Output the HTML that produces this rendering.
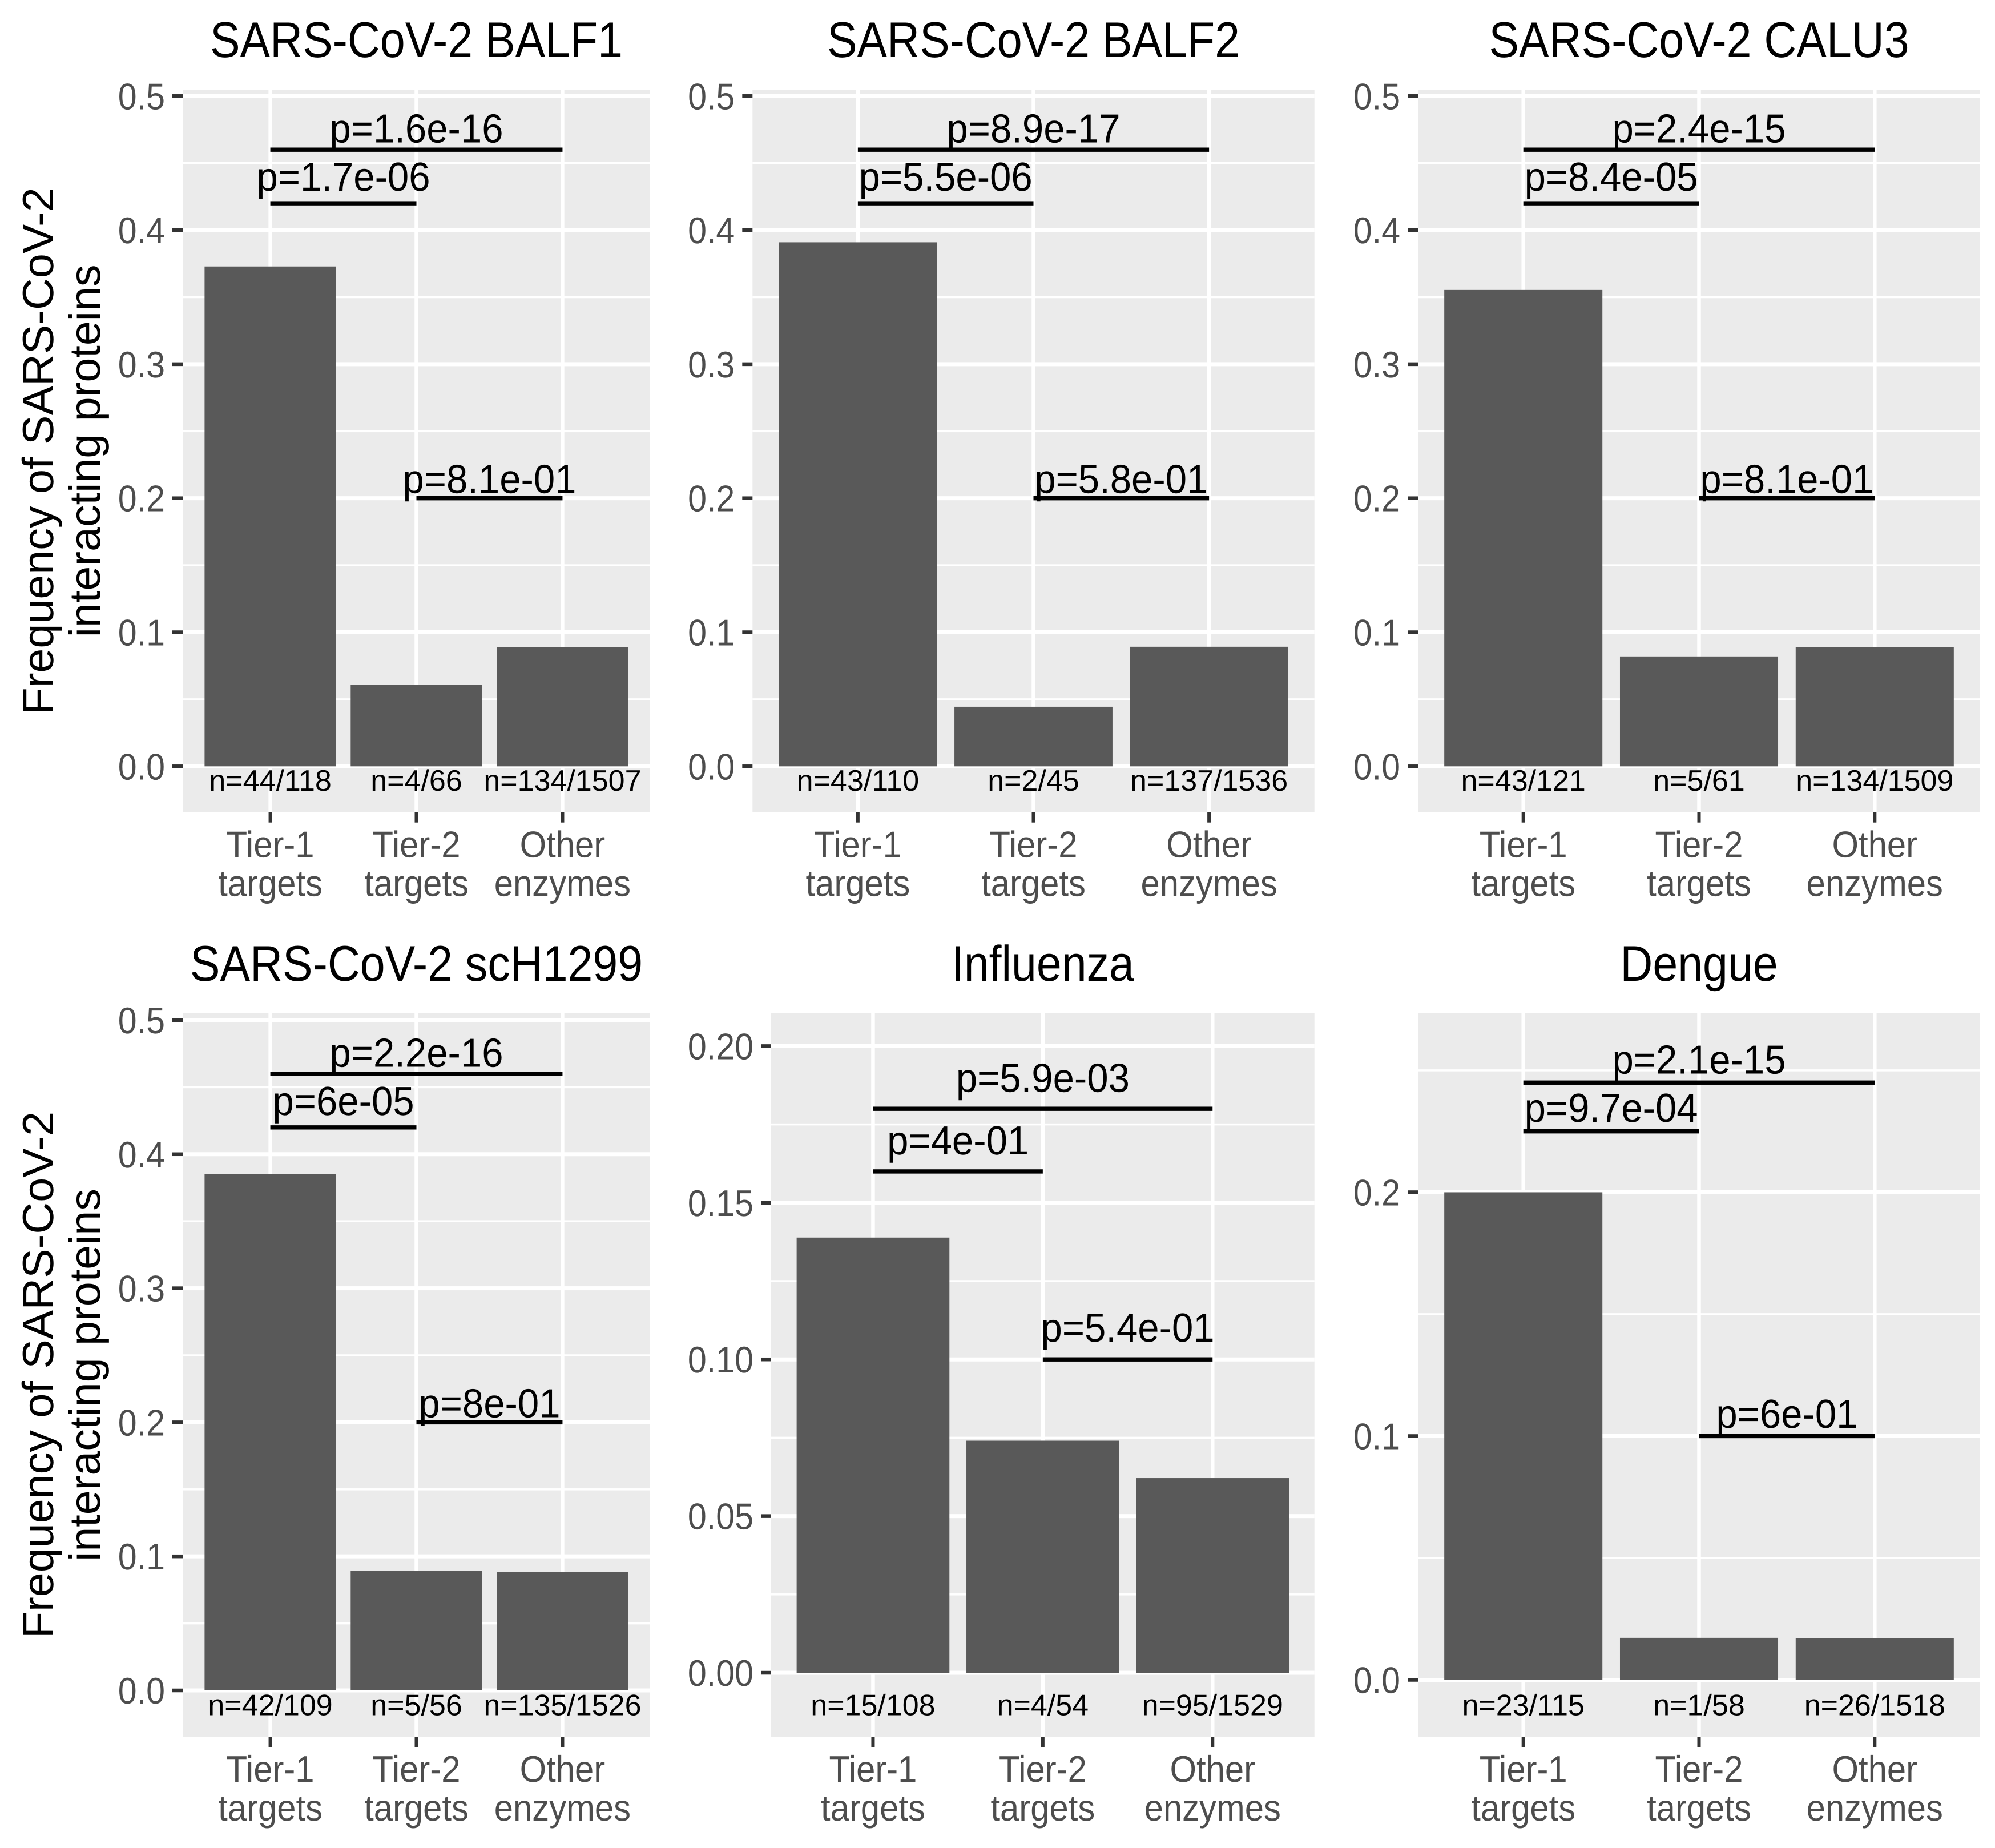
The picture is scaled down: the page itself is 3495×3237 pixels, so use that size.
<!DOCTYPE html>
<html lang="en">
<head>
<meta charset="utf-8">
<title>Frequency of SARS-CoV-2 interacting proteins</title>
<style>
html,body{margin:0;padding:0;background:#fff;}
svg{display:block;}
text{font-family:"Liberation Sans",Arial,sans-serif;text-rendering:geometricPrecision;}
</style>
</head>
<body>
<svg id="figure" xmlns="http://www.w3.org/2000/svg" width="3495" height="3237" viewBox="0 0 3495 3237"></svg>
<script>
// ---- chart data ----
const panelTitles = ["SARS-CoV-2 BALF1","SARS-CoV-2 BALF2","SARS-CoV-2 CALU3","SARS-CoV-2 scH1299","Influenza","Dengue"];
const categoryLine1 = ["Tier-1","Tier-2","Other"];
const categoryLine2 = ["targets","targets","enzymes"];
const hitCounts = [[44,4,134],[43,2,137],[43,5,134],[42,5,135],[15,4,95],[23,1,26]];
const totalCounts = [[118,66,1507],[110,45,1536],[121,61,1509],[109,56,1526],[108,54,1529],[115,58,1518]];
const pLabels = [
  ["p=1.6e-16","p=1.7e-06","p=8.1e-01"],
  ["p=8.9e-17","p=5.5e-06","p=5.8e-01"],
  ["p=2.4e-15","p=8.4e-05","p=8.1e-01"],
  ["p=2.2e-16","p=6e-05","p=8e-01"],
  ["p=5.9e-03","p=4e-01","p=5.4e-01"],
  ["p=2.1e-15","p=9.7e-04","p=6e-01"]
];
const bracketLevels = [[.46,.42,.2],[.46,.42,.2],[.46,.42,.2],[.46,.42,.2],[.18,.16,.1],[.245,.225,.1]];
const pLabelLevels = [[.476,.44,.2145],[.476,.44,.2145],[.476,.44,.2145],[.476,.44,.2145],[.19,.17,.1102],[.2545,.2348,.1092]];
const yTickValues = [[0,.1,.2,.3,.4,.5],[0,.1,.2,.3,.4,.5],[0,.1,.2,.3,.4,.5],[0,.1,.2,.3,.4,.5],[0,.05,.1,.15,.2],[0,.1,.2]];
const yTickLabels = [
  ["0.0","0.1","0.2","0.3","0.4","0.5"],["0.0","0.1","0.2","0.3","0.4","0.5"],
  ["0.0","0.1","0.2","0.3","0.4","0.5"],["0.0","0.1","0.2","0.3","0.4","0.5"],
  ["0.00","0.05","0.10","0.15","0.20"],["0.0","0.1","0.2"]
];
const yMinorValues = [[.05,.15,.25,.35,.45],[.05,.15,.25,.35,.45],[.05,.15,.25,.35,.45],[.05,.15,.25,.35,.45],[.025,.075,.125,.175],[.05,.15,.25]];
const yLimits = [[-.03424,.5048],[-.03424,.5048],[-.03424,.5048],[-.0345,.5051],[-.0204,.21046],[-.0233,.2734]];
const yAxisTitleLines = ["Frequency of SARS-CoV-2","interacting proteins"];

// ---- layout ----
const panelLeft = [320,1318.3,2484,320,1351,2484];
const panelRight = [1139,2302.7,3469,1139,2302.7,3469];
const panelTop = [157,157,157,1775,1775,1775];
const panelBottom = [1422.7,1422.7,1422.7,3042,3042,3042];
const bracketFrom = [0,0,1];
const bracketTo = [2,1,2];
const TITLE = {size:88,sx:.896}, YTICK = {size:65,sx:.91}, XTICK = {size:65,sx:.92}, PVAL = {size:71,sx:.945}, NVAL = {size:52,sx:1}, YTITLE = {size:76.5,sx:1.01};

const svgNS = "http://www.w3.org/2000/svg";
const fig = document.getElementById("figure");

function addGroup(parent, name){
  const el = document.createElementNS(svgNS,"g");
  
  
  parent.appendChild(el);
  return el;
}
function addRect(parent, name, x, y, w, h, fill){
  const el = document.createElementNS(svgNS,"rect");
  
  
  el.setAttribute("x",x);
  el.setAttribute("y",y);
  el.setAttribute("width",w);
  el.setAttribute("height",h);
  el.setAttribute("fill",fill);
  parent.appendChild(el);
  return el;
}
function addText(parent, name, str, x, y, style, fill, anchor, rotate){
  const el = document.createElementNS(svgNS,"text");
  
  
  el.setAttribute("font-size",style.size);
  el.setAttribute("fill",fill);
  el.setAttribute("text-anchor",anchor);
  el.setAttribute("transform","translate("+x+" "+y+")"+(rotate?" rotate("+rotate+")":"")+" scale("+style.sx+" 1)");
  el.textContent = str;
  parent.appendChild(el);
  return el;
}

panelTitles.forEach(function(title,p){
  const L = panelLeft[p], R = panelRight[p], T = panelTop[p], B = panelBottom[p];
  const yMin = yLimits[p][0], yMax = yLimits[p][1];
  const band = (R-L)/3.2;
  const xScale = function(i){ return L + band*(0.6+i); };
  const yScale = function(v){ return B - (v-yMin)/(yMax-yMin)*(B-T); };
  const g = addGroup(fig,"panel-"+(p+1));

  addRect(g,"panel-background",L,T,R-L,B-T,"#ebebeb");
  yMinorValues[p].forEach(function(v){
    addRect(g,"minor-gridline-y",L,yScale(v)-1.75,R-L,3.5,"#ffffff");
  });
  yTickValues[p].forEach(function(v){
    addRect(g,"major-gridline-y",L,yScale(v)-3.5,R-L,7,"#ffffff");
  });
  categoryLine1.forEach(function(c,i){
    addRect(g,"major-gridline-x",xScale(i)-3.25,T,6.5,B-T,"#ffffff");
  });

  hitCounts[p].forEach(function(h,i){
    const freq = h/totalCounts[p][i];
    addRect(g,"bar-"+categoryLine1[i].toLowerCase(),xScale(i)-band*.45,yScale(freq),band*.9,yScale(0)-yScale(freq),"#595959");
  });
  hitCounts[p].forEach(function(h,i){
    addText(g,"count-label","n="+h+"/"+totalCounts[p][i],xScale(i),B-37.7,NVAL,"#000000","middle");
  });

  bracketLevels[p].forEach(function(v,k){
    const a = xScale(bracketFrom[k]), b = xScale(bracketTo[k]);
    addRect(g,"comparison-line",a,yScale(v)-3.7,b-a,7.4,"#000000");
    addText(g,"p-value-label",pLabels[p][k],(a+b)/2,yScale(pLabelLevels[p][k])+25,PVAL,"#000000","middle");
  });

  yTickValues[p].forEach(function(v,k){
    addRect(g,"y-tick",L-18,yScale(v)-3.25,18,6.5,"#333333");
    addText(g,"y-tick-label",yTickLabels[p][k],L-31,yScale(v)+23,YTICK,"#4d4d4d","end");
  });
  categoryLine1.forEach(function(c,i){
    addRect(g,"x-tick",xScale(i)-3,B,6,18,"#333333");
    addText(g,"x-tick-label",c,xScale(i),B+78.8,XTICK,"#4d4d4d","middle");
    addText(g,"x-tick-label",categoryLine2[i],xScale(i),B+146.8,XTICK,"#4d4d4d","middle");
  });

  addText(g,"panel-title",title,(L+R)/2,T-57,TITLE,"#000000","middle");

  if(p%3===0){
    const cy = (T+B)/2;
    addText(g,"y-axis-title",yAxisTitleLines[0],93,cy,YTITLE,"#000000","middle",-90);
    addText(g,"y-axis-title",yAxisTitleLines[1],175,cy,YTITLE,"#000000","middle",-90);
  }
});
</script>
</body>
</html>
